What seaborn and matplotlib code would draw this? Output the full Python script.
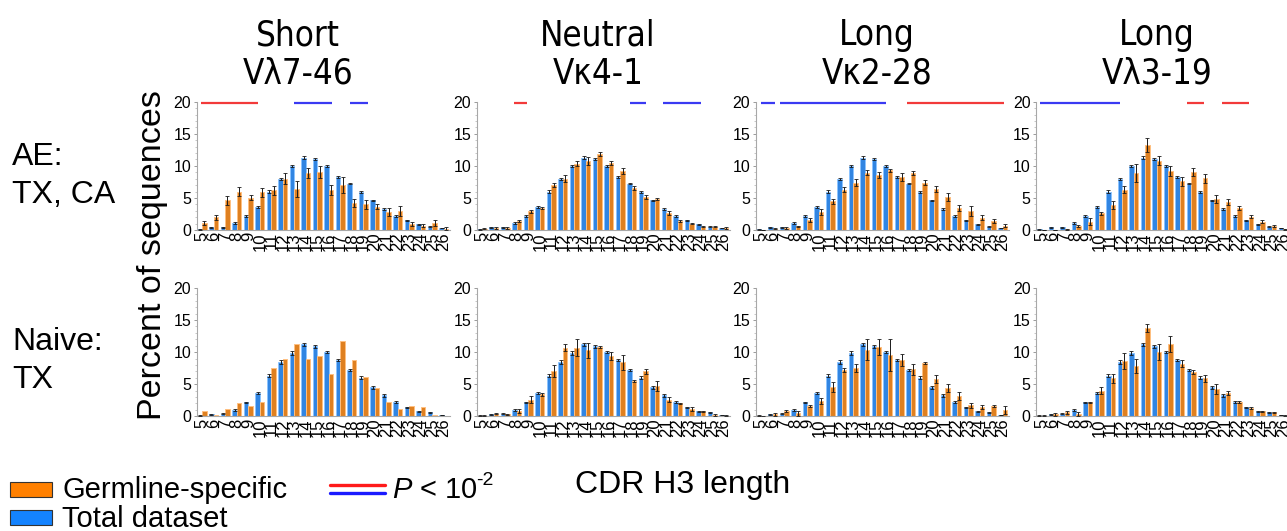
import matplotlib
matplotlib.use("Agg")
import matplotlib.pyplot as plt
from matplotlib.ticker import MultipleLocator
from matplotlib.patches import Rectangle
from matplotlib.lines import Line2D
import pandas as pd
import seaborn as sns

# CDR H3 lengths shown on every panel
lengths = list(range(5, 27))
tick_labels = [str(n) for n in lengths]

# Total dataset (same reference for every germline of a row)
total_ae = [0.1, 0.4, 0.4, 1.1, 2.2, 3.6, 6.0, 7.9, 10.0, 11.3, 11.1, 10.0,
            8.3, 7.2, 5.9, 4.6, 3.3, 2.2, 1.5, 0.9, 0.5, 0.3]
total_ae_err = [0.05, 0.05, 0.05, 0.1, 0.1, 0.15, 0.2, 0.15, 0.2, 0.25, 0.15, 0.15,
                0.15, 0.1, 0.15, 0.15, 0.15, 0.1, 0.1, 0.1, 0.05, 0.05]
total_naive = [0.1, 0.3, 0.4, 1.0, 2.2, 3.6, 6.3, 8.4, 9.9, 11.2, 10.9, 10.0,
               8.8, 7.2, 6.0, 4.5, 3.3, 2.2, 1.4, 0.8, 0.6, 0.2]
total_naive_err = [0.05, 0.05, 0.05, 0.1, 0.1, 0.2, 0.25, 0.3, 0.3, 0.25, 0.2, 0.15,
                   0.2, 0.2, 0.25, 0.3, 0.25, 0.15, 0.1, 0.1, 0.05, 0.05]

# Germline-specific distributions, AE donors (TX, CA)
ae_l746 = [1.1, 2.0, 4.6, 6.0, 5.0, 5.9, 6.2, 8.0, 6.4, 8.9, 9.0, 6.2,
           7.0, 4.2, 4.0, 3.6, 2.8, 3.0, 1.0, 0.7, 1.1, 0.2]
ae_l746_err = [0.3, 0.4, 0.7, 0.7, 0.4, 0.7, 0.7, 0.9, 1.3, 0.8, 0.9, 0.8,
               1.3, 0.6, 0.7, 0.4, 0.6, 0.8, 0.3, 0.3, 0.5, 0.2]
ae_k41 = [0.2, 0.3, 0.3, 1.4, 2.9, 3.4, 7.0, 8.0, 10.3, 10.8, 11.8, 10.4,
          9.2, 6.6, 5.2, 4.8, 2.7, 1.4, 1.0, 0.5, 0.5, 0.3]
ae_k41_err = [0.1, 0.1, 0.1, 0.1, 0.2, 0.2, 0.3, 0.5, 0.4, 0.6, 0.3, 0.3,
              0.4, 0.3, 0.3, 0.2, 0.3, 0.2, 0.1, 0.1, 0.1, 0.1]
ae_k228 = [0.0, 0.2, 0.3, 0.6, 1.6, 2.8, 4.5, 6.3, 7.4, 8.9, 8.6, 9.3,
           8.3, 8.9, 7.4, 6.4, 5.1, 3.4, 3.0, 1.9, 1.4, 0.7]
ae_k228_err = [0.05, 0.1, 0.1, 0.1, 0.3, 0.4, 0.4, 0.4, 0.6, 0.4, 0.5, 0.2,
               0.6, 0.3, 0.4, 0.4, 0.6, 0.5, 0.8, 0.4, 0.3, 0.3]
ae_l319 = [0.0, 0.0, 0.1, 0.6, 1.3, 2.6, 3.9, 6.3, 8.9, 13.3, 10.8, 9.2,
           7.6, 9.0, 8.1, 4.8, 4.4, 3.4, 2.1, 1.3, 0.6, 0.1]
ae_l319_err = [0.05, 0.05, 0.1, 0.2, 0.5, 0.2, 0.6, 0.5, 1.4, 1.1, 0.7, 0.8,
               0.7, 0.6, 0.7, 0.6, 0.5, 0.3, 0.3, 0.2, 0.2, 0.1]

# Germline-specific distributions, naive donors (TX)
nv_l746 = [0.9, 0.2, 1.2, 2.1, 1.6, 2.3, 7.5, 9.0, 11.3, 9.0, 9.4, 6.6,
           11.8, 8.7, 6.1, 4.4, 2.3, 1.2, 1.6, 1.4, 0.2, 0.1]
nv_l746_err = None
nv_k41 = [0.1, 0.4, 0.3, 0.8, 2.6, 3.4, 7.1, 10.7, 10.7, 10.3, 10.8, 9.4,
          8.4, 5.5, 7.0, 4.7, 2.6, 2.0, 1.1, 0.8, 0.2, 0.1]
nv_k41_err = [0.1, 0.1, 0.1, 0.3, 0.5, 0.3, 0.9, 0.5, 1.3, 1.2, 0.2, 0.6,
              1.2, 0.2, 0.4, 0.8, 0.4, 0.1, 0.3, 0.1, 0.1, 0.1]
nv_k228 = [0.0, 0.3, 0.8, 0.5, 1.6, 2.4, 4.6, 7.2, 7.5, 10.4, 10.8, 9.5,
           8.8, 7.3, 8.3, 5.8, 4.4, 3.2, 1.7, 1.4, 1.6, 1.0]
nv_k228_err = [0.05, 0.2, 0.2, 0.4, 0.2, 0.5, 0.8, 0.3, 0.6, 1.7, 1.2, 2.5,
               0.9, 0.8, 0.2, 0.6, 0.6, 0.6, 0.4, 0.3, 0.2, 0.6]
nv_l319 = [0.1, 0.3, 0.6, 0.3, 2.2, 4.0, 5.9, 8.6, 7.9, 13.8, 10.0, 11.3,
           8.2, 6.9, 5.9, 4.3, 3.6, 2.2, 1.3, 0.8, 0.6, 0.1]
nv_l319_err = [0.1, 0.2, 0.3, 0.3, 0.1, 0.6, 0.7, 1.2, 1.1, 0.6, 1.2, 1.2,
               0.5, 0.3, 0.6, 0.8, 0.3, 0.2, 0.2, 0.1, 0.1, 0.05]

# Significant stretches (P < 0.01), in CDR H3 length units
sig_red = {
    "l746": [(4.9, 9.85)],
    "k41": [(7.8, 8.9)],
    "k228": [(17.7, 26.1)],
    "l319": [(17.6, 19.1), (20.7, 23.0)],
}
sig_blue = {
    "l746": [(13.0, 16.3), (17.8, 19.4)],
    "k41": [(17.8, 19.2), (20.7, 24.05)],
    "k228": [(4.94, 6.17), (6.66, 15.8)],
    "l319": [(4.86, 11.8)],
}

germlines = ["l746", "k41", "k228", "l319"]
titles = [("Short", "V\u03bb7-46"), ("Neutral", "V\u03ba4-1"),
          ("Long", "V\u03ba2-28"), ("Long", "V\u03bb3-19")]
rows = [
    dict(total=total_ae, total_err=total_ae_err,
         germ=[ae_l746, ae_k41, ae_k228, ae_l319],
         germ_err=[ae_l746_err, ae_k41_err, ae_k228_err, ae_l319_err],
         sig=True),
    dict(total=total_naive, total_err=total_naive_err,
         germ=[nv_l746, nv_k41, nv_k228, nv_l319],
         germ_err=[nv_l746_err, nv_k41_err, nv_k228_err, nv_l319_err],
         sig=False),
]
row_labels = [("AE:", "TX, CA"), ("Naive:", "TX")]

BLUE = "#1483ff"
ORANGE = "#ff8000"
BLUE_EDGE = "#8cc4ff"
ORANGE_EDGE = "#ffbf80"
SIG_RED = "#f23a3a"
SIG_BLUE = "#3a3af2"

sns.set_style("white")
plt.rcParams["font.family"] = ["Liberation Sans", "DejaVu Sans"]
plt.rcParams["text.color"] = "black"
plt.rcParams["xtick.color"] = "black"
plt.rcParams["ytick.color"] = "black"
plt.rcParams["mathtext.fontset"] = "custom"
plt.rcParams["mathtext.rm"] = "Liberation Sans"
plt.rcParams["mathtext.it"] = "Liberation Sans:italic"

W, H = 1287, 531
fig = plt.figure(figsize=(W / 100, H / 100), dpi=100)

col_left_px = [196.7, 476.7, 755.7, 1036.0]
ax_w_px = 253
row_top_px = [101.7, 288.0]
ax_h_px = 128.3

hue_order = ["Total dataset", "Germline-specific"]

for r, row in enumerate(rows):
    for c, g in enumerate(germlines):
        left = col_left_px[c] / W
        bottom = 1 - (row_top_px[r] + ax_h_px) / H
        ax = fig.add_axes([left, bottom, ax_w_px / W, ax_h_px / H])

        df = pd.DataFrame({
            "length": lengths * 2,
            "pct": list(row["total"]) + list(row["germ"][c]),
            "set": [hue_order[0]] * len(lengths) + [hue_order[1]] * len(lengths),
        })
        sns.barplot(data=df, x="length", y="pct", hue="set", order=lengths,
                    hue_order=hue_order, palette=[BLUE, ORANGE], width=0.78,
                    errorbar=None, legend=False, ax=ax, linewidth=0.7)

        edges = [BLUE_EDGE, ORANGE_EDGE]
        vals = [row["total"], row["germ"][c]]
        errs = [row["total_err"], row["germ_err"][c]]
        for cont, ec, v, e in zip(ax.containers, edges, vals, errs):
            for bar in cont:
                bar.set_edgecolor(ec)
            if e is None:
                continue
            xs = [b.get_x() + b.get_width() / 2 for b in cont]
            ax.errorbar(xs, v, yerr=e, fmt="none", ecolor="#1a1a1a",
                        elinewidth=0.7, capsize=1.4, capthick=0.6, zorder=5)

        if row["sig"]:
            for color, segs in ((SIG_RED, sig_red[g]), (SIG_BLUE, sig_blue[g])):
                for a, b in segs:
                    ax.plot([a - lengths[0], b - lengths[0]], [19.8, 19.8],
                            color=color, lw=1.6, solid_capstyle="butt",
                            clip_on=False, zorder=6)

        ax.set_xlim(-0.48, len(lengths) - 0.5)
        ax.set_ylim(0, 20)
        ax.set_xticks(range(len(lengths)))
        ax.set_xticklabels(tick_labels, rotation=90, fontsize=12)
        ax.set_yticks([0, 5, 10, 15, 20])
        ax.set_yticklabels(["0", "5", "10", "15", "20"], fontsize=11.5)
        ax.yaxis.set_minor_locator(MultipleLocator(1))
        ax.tick_params(axis="x", length=0, pad=1.5)
        ax.tick_params(axis="y", which="major", length=2.5, width=0.7,
                       color="#9a9a9a", pad=1.5, left=True)
        ax.tick_params(axis="y", which="minor", length=1.5, width=0.5,
                       color="#b0b0b0", left=True)
        ax.set_xlabel("")
        ax.set_ylabel("")
        for side in ("top", "right"):
            ax.spines[side].set_visible(False)
        for side in ("left", "bottom"):
            ax.spines[side].set_color("#a8a8a8")
            ax.spines[side].set_linewidth(0.8)

# Column titles in a condensed face
title_font = dict(family=["DejaVu Sans", "Liberation Sans"], stretch="condensed",
                  fontsize=25)
title_x_px = [298, 598, 877, 1157]
for (l1, l2), x in zip(titles, title_x_px):
    fig.text(x / W, 1 - 45 / H, l1, ha="center", va="baseline", **title_font)
    fig.text(x / W, 1 - 84 / H, l2, ha="center", va="baseline", **title_font)

# Row labels
for (l1, l2), base in zip(row_labels, [(165, 203), (350, 388)]):
    fig.text(12 / W, 1 - base[0] / H, l1, ha="left", va="baseline", fontsize=23)
    fig.text(12 / W, 1 - base[1] / H, l2, ha="left", va="baseline", fontsize=23)

# Shared axis titles
fig.text(152 / W, 1 - 255 / H, "Percent of sequences", rotation=90,
         ha="center", va="center", fontsize=24.5)
fig.text(683 / W, 1 - 493 / H, "CDR H3 length", ha="center", va="baseline",
         fontsize=23)

# Legend
fig.add_artist(Rectangle((10 / W, 1 - 497 / H), 42 / W, 15 / H,
                         transform=fig.transFigure, facecolor=ORANGE,
                         edgecolor="#333333", linewidth=0.8))
fig.add_artist(Rectangle((10 / W, 1 - 525 / H), 42 / W, 15 / H,
                         transform=fig.transFigure, facecolor=BLUE,
                         edgecolor="#333333", linewidth=0.8))
fig.text(62 / W, 1 - 498 / H, "Germline-specific", ha="left", va="baseline",
         fontsize=21)
fig.text(62 / W, 1 - 527 / H, "Total dataset", ha="left", va="baseline",
         fontsize=21)
fig.add_artist(Line2D([330 / W, 385 / W], [1 - 485 / H, 1 - 485 / H],
                      transform=fig.transFigure, color="#ff1a1a", lw=2.4))
fig.add_artist(Line2D([330 / W, 385 / W], [1 - 493 / H, 1 - 493 / H],
                      transform=fig.transFigure, color="#1a1aff", lw=2.4))
fig.text(392 / W, 1 - 498 / H, r"$P$ < 10", ha="left", va="baseline",
         fontsize=21)
fig.text(476 / W, 1 - 485 / H, "-2", ha="left", va="baseline", fontsize=14)

fig.savefig("out.png", dpi=100)
